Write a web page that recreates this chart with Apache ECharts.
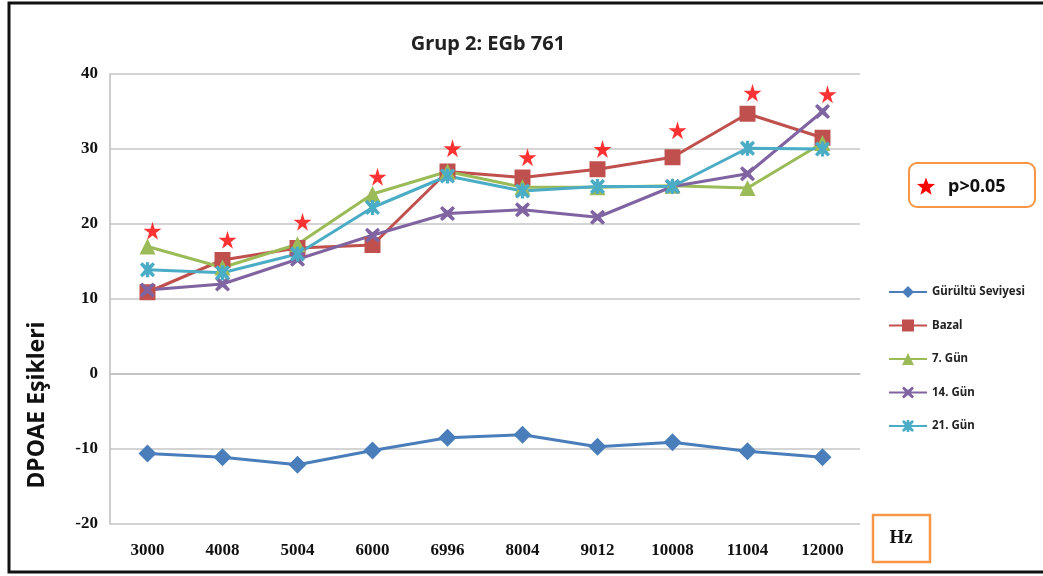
<!DOCTYPE html>
<html>
<head>
<meta charset="utf-8">
<script src="https://cdn.jsdelivr.net/npm/echarts@6/dist/echarts.min.js"></script>
<style>
  html, body { margin: 0; padding: 0; background: #fff; }
  #chart { width: 1043px; height: 576px; }
</style>
</head>
<body>
<div id="chart"></div>
<script>
// frequencies (Hz) on the x axis
const freqs = ['3000', '4008', '5004', '6000', '6996', '8004', '9012', '10008', '11004', '12000'];

// DPOAE thresholds
const gurultu = [-10.6, -11.1, -12.1, -10.2, -8.5, -8.1, -9.7, -9.1, -10.3, -11.1];
const bazal   = [10.9, 15.2, 16.8, 17.2, 27.0, 26.2, 27.3, 28.9, 34.7, 31.5];
const gun7    = [17.0, 14.2, 17.3, 24.0, 27.0, 24.9, 24.9, 25.1, 24.8, 30.8];
const gun14   = [11.2, 12.0, 15.3, 18.5, 21.4, 21.9, 20.9, 25.0, 26.7, 35.0];
const gun21   = [13.9, 13.5, 16.0, 22.2, 26.4, 24.4, 25.0, 25.0, 30.1, 30.0];
// red star markers (p>0.05)
const pStars  = [19.1, 17.9, 20.3, 26.3, 30.1, 28.9, 30.0, 32.5, 37.5, 37.3];

const yTicks = { min: -20, max: 40, interval: 10 };

const STAR = 'path://M50,0 L61,35 L98,35 L68,57 L79,91 L50,70 L21,91 L32,57 L2,35 L39,35 Z';
const XMARK = 'path://M1.5,0 L5,3 L8.5,0 L10,1.5 L7,5 L10,8.5 L8.5,10 L5,7 L1.5,10 L0,8.5 L3,5 L0,1.5 Z';
const ASTER = 'path://M1.5,0 L5,3 L8.5,0 L10,1.5 L7,5 L10,8.5 L8.5,10 L5,7 L1.5,10 L0,8.5 L3,5 L0,1.5 Z M3.9,0 L6.1,0 L6.1,10 L3.9,10 Z';

// star outline for the p>0.05 box
function starPoints(cx, cy, r) {
    const pts = [];
    for (let i = 0; i < 10; i++) {
        const a = -Math.PI / 2 + i * Math.PI / 5;
        const rr = i % 2 === 0 ? r : r * 0.42;
        pts.push([cx + rr * Math.cos(a), cy + rr * Math.sin(a)]);
    }
    return pts;
}

function lineSeries(name, data, color, symbol, size) {
    return {
        name: name,
        type: 'line',
        data: data,
        symbol: symbol,
        symbolSize: size,
        lineStyle: { color: color, width: 3 },
        itemStyle: { color: color },
        z: 3
    };
}

const chart = echarts.init(document.getElementById('chart'));
chart.setOption({
    animation: false,
    title: {
        text: 'Grup 2: EGb 761',
        left: 483,
        textAlign: 'center',
        top: 29,
        textStyle: { fontFamily: 'Noto Sans', fontWeight: 'bold', fontSize: 20, color: '#222' }
    },
    grid: { left: 110, right: 183, top: 74, bottom: 52 },
    legend: {
        orient: 'vertical',
        left: 883,
        top: 281,
        itemWidth: 38,
        itemHeight: 15,
        itemGap: 21.5,
        data: ['Gürültü Seviyesi', 'Bazal', '7. Gün', '14. Gün', '21. Gün'],
        textStyle: { fontFamily: 'Noto Sans', fontWeight: 'bold', fontSize: 11.5, color: '#222' }
    },
    xAxis: {
        type: 'category',
        data: freqs,
        axisLine: { lineStyle: { color: '#bdbdbd', width: 1.5 } },
        axisTick: { show: false },
        axisLabel: {
            margin: 18,
            fontFamily: 'Liberation Serif', fontWeight: 'bold', fontSize: 17, color: '#111'
        }
    },
    yAxis: {
        type: 'value',
        min: yTicks.min,
        max: yTicks.max,
        interval: yTicks.interval,
        axisLine: { show: true, lineStyle: { color: '#bdbdbd', width: 1.5 } },
        axisTick: { show: false },
        splitLine: { lineStyle: { color: '#c6c6c6', width: 1.5 } },
        axisLabel: {
            margin: 12,
            fontFamily: 'Liberation Serif', fontWeight: 'bold', fontSize: 17, color: '#111'
        }
    },
    series: [
        lineSeries('Gürültü Seviyesi', gurultu, '#4a7ebb', 'diamond', 18),
        lineSeries('Bazal', bazal, '#c0504d', 'rect', 16),
        lineSeries('7. Gün', gun7, '#9bbb59', 'triangle', 16),
        lineSeries('14. Gün', gun14, '#8064a2', XMARK, 15),
        lineSeries('21. Gün', gun21, '#4bacc6', ASTER, 15),
        {
            name: 'p>0.05',
            type: 'scatter',
            data: pStars,
            symbol: STAR,
            symbolSize: 18,
            symbolOffset: [5, 0],
            itemStyle: { color: '#ff0000' },
            z: 4
        }
    ],
    graphic: [
        {   // outer frame
            type: 'rect',
            shape: { x: 9, y: 3, width: 1100, height: 569 },
            style: { fill: null, stroke: '#111', lineWidth: 3 }
        },
        {
            type: 'text',
            x: 37, y: 405,
            rotation: Math.PI / 2,
            style: {
                text: 'DPOAE Eşikleri',
                align: 'center', verticalAlign: 'middle',
                font: 'bold 23px "Noto Sans"', fill: '#111'
            }
        },
        {
            type: 'rect',
            shape: { x: 909, y: 163, width: 126, height: 44, r: 8 },
            style: { fill: '#fff', stroke: '#f79646', lineWidth: 2 }
        },
        {
            type: 'polygon',
            shape: { points: starPoints(926, 187, 9.5) },
            style: { fill: '#ff0000' }
        },
        {
            type: 'text',
            x: 948, y: 187,
            style: {
                text: 'p>0.05',
                verticalAlign: 'middle',
                font: 'bold 18px "Noto Sans"', fill: '#111'
            }
        },
        {
            type: 'rect',
            shape: { x: 873, y: 515, width: 57, height: 47 },
            style: { fill: '#fff', stroke: '#f79646', lineWidth: 2.5 }
        },
        {
            type: 'text',
            x: 901, y: 538,
            style: {
                text: 'Hz',
                align: 'center', verticalAlign: 'middle',
                font: 'bold 19px "Liberation Serif"', fill: '#111'
            }
        }
    ]
});
</script>
</body>
</html>
